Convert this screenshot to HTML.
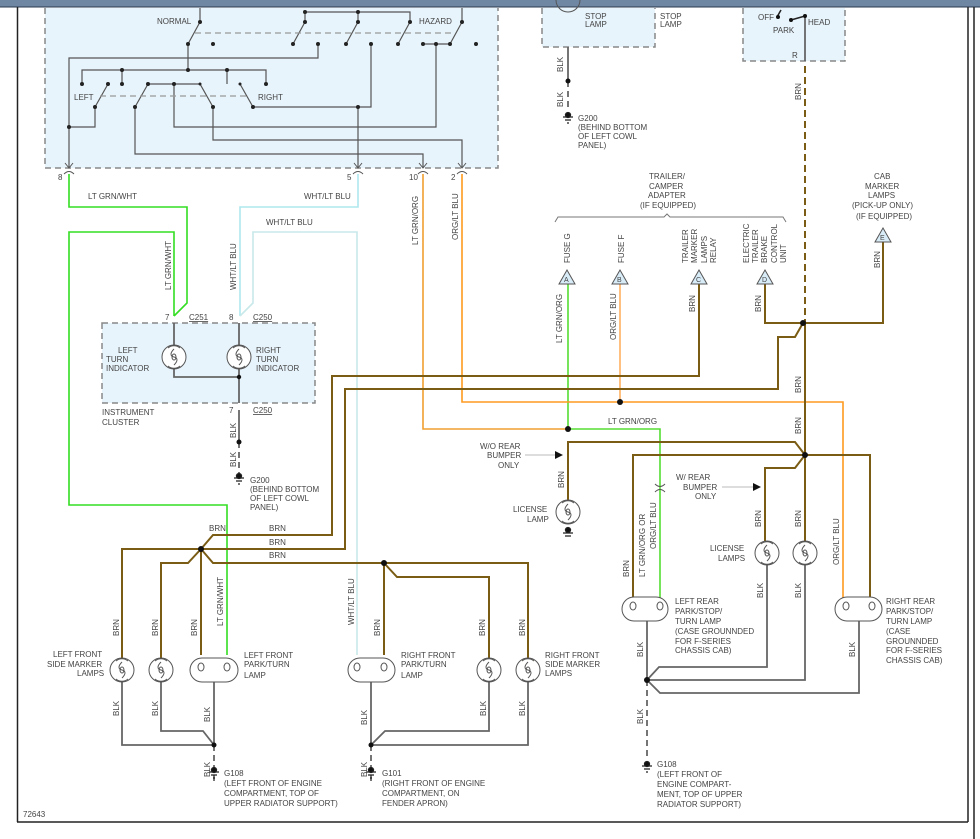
<!DOCTYPE html>
<html><head><meta charset="utf-8"><style>
html,body{margin:0;padding:0;background:#fff;width:980px;height:839px;overflow:hidden}
svg text{font-family:"Liberation Sans",sans-serif;font-size:8px;fill:#444}
</style></head><body>
<svg width="980" height="839" viewBox="0 0 980 839" xmlns="http://www.w3.org/2000/svg">
<defs>
<g id="rl"><circle r="12" fill="#fff" stroke="#555" stroke-width="1"/><path d="M-6,-9 A9,9 0 0 1 6,-9 M-6,9 A9,9 0 0 0 6,9" fill="none" stroke="#555"/><path d="M0,-8 C-4,-4 -4,-1 0,0 C4,1 4,4 0,8" fill="none" stroke="#555"/><ellipse cx="0" cy="0" rx="2" ry="3" fill="none" stroke="#555"/></g>
</defs>
<!-- frame -->
<rect x="0" y="0" width="980" height="7" fill="#6f87a3"/>
<line x1="0" y1="7" x2="980" y2="7" stroke="#2a3a50" stroke-width="1"/>
<line x1="17.5" y1="7" x2="17.5" y2="822" stroke="#222" stroke-width="1.5"/>
<line x1="17" y1="822" x2="968" y2="822" stroke="#222" stroke-width="1.5"/>
<line x1="968" y1="7" x2="968" y2="822" stroke="#222" stroke-width="1.5"/>
<line x1="974" y1="7" x2="974" y2="839" stroke="#222" stroke-width="1.5"/>

<!-- boxes -->
<g fill="#e8f4fc" stroke="#888" stroke-width="1.5" stroke-dasharray="6,4">
<path d="M45,8 V168 H498 V8"/>
<path d="M542,8 V47 H655 V8"/>
<path d="M743,8 V61 H845 V8"/>
<rect x="102" y="323" width="213" height="80"/>
</g>

<!-- switch internals -->
<g stroke="#555" stroke-width="1.2" fill="none">
<path d="M200,8 V22 L188,44"/>
<path d="M305,22 V12 H410 V22 M358,12 V22"/>
<path d="M305,22 L293,44 M358,22 L346,44 M410,22 L398,44 M462,8 V22 L450,44 M423,44 H450"/>
<path d="M188,44 V70 M82,84 V70 H266 V84 M122,70 V84 M227,70 V84"/>
<path d="M108,84 L95,107 M148,84 L135,107 M148,84 H200 L213,107 M240,84 L253,107"/>
<path d="M318,44 V58 H69 V168 M69,127 H95 V107"/>
<path d="M371,44 V107 H253 M358,107 V168"/>
<path d="M174,84 V127 H436 V44"/>
<path d="M213,107 V140 H462 V168"/>
<path d="M135,107 V154 H423 V168"/>
<path d="M195,33 H455 M100,96 H248" stroke="#999" stroke-dasharray="6,4"/>
</g>
<g fill="#222">
<circle cx="200" cy="22" r="2"/><circle cx="188" cy="44" r="2"/><circle cx="213" cy="44" r="2"/>
<circle cx="305" cy="12" r="2"/><circle cx="358" cy="12" r="2"/><circle cx="305" cy="22" r="2"/><circle cx="358" cy="22" r="2"/><circle cx="410" cy="22" r="2"/><circle cx="462" cy="22" r="2"/>
<circle cx="293" cy="44" r="2"/><circle cx="318" cy="44" r="2"/><circle cx="346" cy="44" r="2"/><circle cx="371" cy="44" r="2"/><circle cx="398" cy="44" r="2"/><circle cx="423" cy="44" r="2"/><circle cx="436" cy="44" r="2"/><circle cx="450" cy="44" r="2"/><circle cx="476" cy="44" r="2"/>
<circle cx="122" cy="70" r="2"/><circle cx="188" cy="70" r="2"/><circle cx="227" cy="70" r="2"/>
<circle cx="82" cy="84" r="2"/><circle cx="108" cy="84" r="2"/><circle cx="122" cy="84" r="2"/><circle cx="148" cy="84" r="2"/><circle cx="174" cy="84" r="2"/><circle cx="200" cy="84" r="1.5"/><circle cx="240" cy="84" r="1.5"/><circle cx="266" cy="84" r="2"/>
<circle cx="95" cy="107" r="2"/><circle cx="135" cy="107" r="2"/><circle cx="213" cy="107" r="2"/><circle cx="253" cy="107" r="2"/><circle cx="358" cy="107" r="2"/><circle cx="69" cy="127" r="2"/>
</g>
<text x="157" y="24">NORMAL</text><text x="419" y="24">HAZARD</text>
<text x="74" y="100">LEFT</text><text x="258" y="100">RIGHT</text>
<!-- connectors -->
<g stroke="#555" fill="none" stroke-width="1">
<path d="M65,163 L69,168 L73,163 M64,174 Q69,169 74,174"/>
<path d="M354,163 L358,168 L362,163 M353,174 Q358,169 363,174"/>
<path d="M419,163 L423,168 L427,163 M418,174 Q423,169 428,174"/>
<path d="M458,163 L462,168 L466,163 M457,174 Q462,169 467,174"/>
</g>
<text x="58" y="180">8</text><text x="347" y="180">5</text><text x="409" y="180">10</text><text x="451" y="180">2</text>

<!-- colored wires -->
<g fill="none" stroke-width="1.6">
<path d="M69,174 V207 H187 V303 L174,316" stroke="#33dd22"/>
<path d="M174,316 V232 H69 V505 H227 V655" stroke="#33dd22"/>
<path d="M358,174 V207 H240 V316" stroke="#aee8ee"/>
<path d="M240,316 L253,303 V232 H357 V655" stroke="#c8e8ea"/>
<path d="M423,174 V429 H568" stroke="#f0a030"/>
<path d="M568,284 V429 H660 V600" stroke="#55dd33"/>
<path d="M462,174 V402 H843 V600" stroke="#ff9a20"/>
<path d="M620,284 V402" stroke="#ffb060"/>
</g>
<g fill="none" stroke="#7a5c14" stroke-width="2">
<path d="M805,66 V323" stroke-dasharray="7,4"/>
<path d="M805,323 V455"/>
<path d="M765,284 V323 H883 V242"/>
<path d="M803,323 L795,337 H778 V389 H345 V549 H201"/>
<path d="M699,284 V376 H332 V535 H213 L201,549"/>
<path d="M201,549 H122 V658 M201,549 L188,563 H161 V658 M201,549 V655 M201,549 L213,563 H384 V655"/>
<path d="M384,563 H528 V658 M384,563 L397,577 H489 V658"/>
<path d="M805,455 L795,442 H568 V500 M805,455 H633 V600 M805,455 L795,468 H765 V541 M805,455 V541 M805,455 H870 V600"/>
</g>
<!-- BLK -->
<g fill="none" stroke="#666" stroke-width="1.8">
<path d="M239,410 V442"/><path d="M239,442 V473" stroke-dasharray="6,4"/>
<path d="M568,47 V81"/><path d="M568,81 V108" stroke-dasharray="6,4"/>
<path d="M122,682 V745 H214 M161,682 V731 H203 L214,745 M214,682 V745"/><path d="M214,745 V785" stroke-dasharray="6,4"/>
<path d="M528,682 V745 H371 M489,682 V731 H385 L371,745 M371,682 V745"/><path d="M371,745 V785" stroke-dasharray="6,4"/>
<path d="M767,565 V667 H659 L647,680 M805,565 V680 H647 M859,620 V693 H660 L647,680 M647,620 V680"/><path d="M647,680 V760" stroke-dasharray="6,4"/>
<path d="M174,369 V377 H239 M239,369 V403 M174,323 V345 M239,323 V345 M805,16 V61"/>
</g>
<g fill="#111">
<circle cx="239" cy="377" r="2.2"/><circle cx="239" cy="442" r="2.5"/><circle cx="568" cy="81" r="2.5"/>
<circle cx="201" cy="549" r="3"/><circle cx="384" cy="563" r="3"/><circle cx="214" cy="745" r="2.5"/><circle cx="371" cy="745" r="2.5"/>
<circle cx="803" cy="323" r="3"/><circle cx="805" cy="455" r="3"/><circle cx="620" cy="402" r="3"/><circle cx="568" cy="429" r="3"/><circle cx="647" cy="680" r="3"/>
</g>
<!-- grounds -->
<g stroke="#222" stroke-width="1.3">
<path d="M234,478 H244 M236,481 H242 M238,484 H240"/><circle cx="239" cy="476" r="2.5" fill="#111"/>
<path d="M563,117 H573 M565,120 H571 M567,123 H569"/><circle cx="568" cy="115" r="2.5" fill="#111"/>
<path d="M209,772 H219 M211,775 H217 M213,778 H215"/><circle cx="214" cy="770" r="2.5" fill="#111"/>
<path d="M366,772 H376 M368,775 H374 M370,778 H372"/><circle cx="371" cy="770" r="2.5" fill="#111"/>
<path d="M642,766 H652 M644,769 H650 M646,772 H648"/><circle cx="647" cy="764" r="2.5" fill="#111"/>
<path d="M563,533 H573 M565,536 H571"/><circle cx="568" cy="530" r="2.5" fill="#111"/>
</g>
<!-- switch box 3 -->
<path d="M777,17 L781,10 M791,20 L805,16" stroke="#222" stroke-width="1.5"/>
<circle cx="778" cy="17" r="2" fill="#111"/><circle cx="791" cy="20" r="2" fill="#111"/><circle cx="805" cy="16" r="2" fill="#111"/>
<text x="758" y="20">OFF</text><text x="773" y="33">PARK</text><text x="808" y="25">HEAD</text><text x="792" y="58">R</text>
<!-- lamps -->
<use href="#rl" x="174" y="357"/><use href="#rl" x="239" y="357"/>
<use href="#rl" x="122" y="670"/><use href="#rl" x="161" y="670"/><use href="#rl" x="489" y="670"/><use href="#rl" x="528" y="670"/>
<use href="#rl" x="568" y="512"/><use href="#rl" x="767" y="553"/><use href="#rl" x="805" y="553"/>
<path d="M556,0 A12,12 0 0 0 580,0" fill="none" stroke="#555"/>
<g fill="#fff" stroke="#555">
<rect x="190" y="658" width="48" height="24" rx="12"/><rect x="348" y="658" width="47" height="24" rx="12"/>
<rect x="622" y="597" width="46" height="24" rx="12"/><rect x="835" y="597" width="47" height="24" rx="12"/>
</g>
<g fill="none" stroke="#555"><ellipse cx="201" cy="667" rx="3" ry="4"/><ellipse cx="227" cy="667" rx="3" ry="4"/><ellipse cx="357" cy="667" rx="3" ry="4"/><ellipse cx="384" cy="667" rx="3" ry="4"/><ellipse cx="633" cy="606" rx="3" ry="4"/><ellipse cx="660" cy="606" rx="3" ry="4"/><ellipse cx="846" cy="606" rx="3" ry="4"/><ellipse cx="872" cy="606" rx="3" ry="4"/>
<path d="M655,484 Q660,489 665,484 M655,492 Q660,487 665,492"/></g>
<!-- triangles -->
<g fill="#d8ecf8" stroke="#555"><path d="M559,284 L567,270 L575,284Z"/><path d="M612,284 L620,270 L628,284Z"/><path d="M691,284 L699,270 L707,284Z"/><path d="M757,284 L765,270 L773,284Z"/><path d="M875,242 L883,228 L891,242Z"/></g>
<g font-size="7"><text x="564" y="282" style="font-size:7px">A</text><text x="617" y="282" style="font-size:7px">B</text><text x="696" y="282" style="font-size:7px">C</text><text x="762" y="282" style="font-size:7px">D</text><text x="880" y="240" style="font-size:7px">E</text></g>
<path d="M555,222 L558,217 H664 L667,214 L670,217 H783 L786,222" fill="none" stroke="#777"/>
<!-- arrows -->
<path d="M525,455 H555" stroke="#bbb"/><path d="M555,451 L563,455 L555,459Z" fill="#111"/>
<path d="M722,487 H753" stroke="#bbb"/><path d="M753,483 L761,487 L753,491Z" fill="#111"/>

<!-- horizontal labels -->
<text x="88" y="199">LT GRN/WHT</text><text x="304" y="199">WHT/LT BLU</text><text x="266" y="225">WHT/LT BLU</text>
<text x="118" y="353">LEFT</text><text x="106" y="362">TURN</text><text x="106" y="371" >INDICATOR</text>
<text x="256" y="353">RIGHT</text><text x="256" y="362">TURN</text><text x="256" y="371">INDICATOR</text>
<text x="165" y="320">7</text><text x="189" y="320" text-decoration="underline">C251</text>
<text x="229" y="320">8</text><text x="253" y="320" text-decoration="underline">C250</text>
<text x="229" y="413">7</text><text x="253" y="413" text-decoration="underline">C250</text>
<text x="102" y="415">INSTRUMENT</text><text x="102" y="425">CLUSTER</text>
<text x="250" y="483">G200</text><text x="250" y="492">(BEHIND BOTTOM</text><text x="250" y="501">OF LEFT COWL</text><text x="250" y="510">PANEL)</text>
<text x="578" y="121">G200</text><text x="578" y="130">(BEHIND BOTTOM</text><text x="578" y="139">OF LEFT COWL</text><text x="578" y="148">PANEL)</text>
<text x="585" y="19">STOP</text><text x="585" y="27">LAMP</text><text x="660" y="19">STOP</text><text x="660" y="27">LAMP</text>
<text x="649" y="179">TRAILER/</text><text x="649" y="189">CAMPER</text><text x="648" y="198">ADAPTER</text><text x="640" y="208">(IF EQUIPPED)</text>
<text x="874" y="179">CAB</text><text x="865" y="189">MARKER</text><text x="868" y="198">LAMPS</text><text x="852" y="208">(PICK-UP ONLY)</text><text x="856" y="219">(IF EQUIPPED)</text>
<text x="209" y="531">BRN</text><text x="269" y="531">BRN</text><text x="269" y="545">BRN</text><text x="269" y="558">BRN</text>
<text x="608" y="424">LT GRN/ORG</text>
<text x="480" y="449">W/O REAR</text><text x="487" y="458">BUMPER</text><text x="498" y="468">ONLY</text>
<text x="676" y="480">W/ REAR</text><text x="683" y="490">BUMPER</text><text x="695" y="499">ONLY</text>
<text x="513" y="512">LICENSE</text><text x="527" y="522">LAMP</text>
<text x="710" y="551">LICENSE</text><text x="718" y="561">LAMPS</text>
<text x="53" y="657">LEFT FRONT</text><text x="47" y="667">SIDE MARKER</text><text x="77" y="676">LAMPS</text>
<text x="244" y="658">LEFT FRONT</text><text x="244" y="667">PARK/TURN</text><text x="244" y="678">LAMP</text>
<text x="401" y="658">RIGHT FRONT</text><text x="401" y="667">PARK/TURN</text><text x="401" y="678">LAMP</text>
<text x="545" y="658">RIGHT FRONT</text><text x="545" y="667">SIDE MARKER</text><text x="545" y="676">LAMPS</text>
<text x="675" y="604">LEFT REAR</text><text x="675" y="614">PARK/STOP/</text><text x="675" y="624">TURN LAMP</text><text x="675" y="634">(CASE GROUNNDED</text><text x="675" y="644">FOR F-SERIES</text><text x="675" y="653">CHASSIS CAB)</text>
<text x="886" y="604">RIGHT REAR</text><text x="886" y="614">PARK/STOP/</text><text x="886" y="624">TURN LAMP</text><text x="886" y="634">(CASE</text><text x="886" y="644">GROUNNDED</text><text x="886" y="653">FOR F-SERIES</text><text x="886" y="663">CHASSIS CAB)</text>
<text x="224" y="776">G108</text><text x="224" y="786">(LEFT FRONT OF ENGINE</text><text x="224" y="796">COMPARTMENT, TOP OF</text><text x="224" y="806">UPPER RADIATOR SUPPORT)</text>
<text x="382" y="776">G101</text><text x="382" y="786">(RIGHT FRONT OF ENGINE</text><text x="382" y="796">COMPARTMENT, ON</text><text x="382" y="806">FENDER APRON)</text>
<text x="657" y="767">G108</text><text x="657" y="777">(LEFT FRONT OF</text><text x="657" y="787">ENGINE COMPART-</text><text x="657" y="797">MENT, TOP OF UPPER</text><text x="657" y="807">RADIATOR SUPPORT)</text>
<text x="23" y="817">72643</text>

<!-- vertical labels -->
<g>
<text transform="translate(171,290) rotate(-90)">LT GRN/WHT</text>
<text transform="translate(236,290) rotate(-90)">WHT/LT BLU</text>
<text transform="translate(418,245) rotate(-90)">LT GRN/ORG</text>
<text transform="translate(458,240) rotate(-90)">ORG/LT BLU</text>
<text transform="translate(801,100) rotate(-90)">BRN</text>
<text transform="translate(563,72) rotate(-90)">BLK</text><text transform="translate(563,107) rotate(-90)">BLK</text>
<text transform="translate(236,438) rotate(-90)">BLK</text><text transform="translate(236,467) rotate(-90)">BLK</text>
<text transform="translate(570,263) rotate(-90)">FUSE G</text>
<text transform="translate(624,263) rotate(-90)">FUSE F</text>
<text transform="translate(688,263) rotate(-90)">TRAILER</text><text transform="translate(697,263) rotate(-90)">MARKER</text><text transform="translate(707,263) rotate(-90)">LAMPS</text><text transform="translate(716,263) rotate(-90)">RELAY</text>
<text transform="translate(749,263) rotate(-90)">ELECTRIC</text><text transform="translate(758,263) rotate(-90)">TRAILER</text><text transform="translate(767,263) rotate(-90)">BRAKE</text><text transform="translate(777,263) rotate(-90)">CONTROL</text><text transform="translate(786,263) rotate(-90)">UNIT</text>
<text transform="translate(562,343) rotate(-90)">LT GRN/ORG</text>
<text transform="translate(616,340) rotate(-90)">ORG/LT BLU</text>
<text transform="translate(695,312) rotate(-90)">BRN</text>
<text transform="translate(761,312) rotate(-90)">BRN</text>
<text transform="translate(880,268) rotate(-90)">BRN</text>
<text transform="translate(801,393) rotate(-90)">BRN</text><text transform="translate(801,434) rotate(-90)">BRN</text>
<text transform="translate(564,488) rotate(-90)">BRN</text>
<text transform="translate(761,527) rotate(-90)">BRN</text><text transform="translate(801,527) rotate(-90)">BRN</text>
<text transform="translate(645,577) rotate(-90)">LT GRN/ORG OR</text><text transform="translate(656,549) rotate(-90)">ORG/LT BLU</text>
<text transform="translate(629,577) rotate(-90)">BRN</text>
<text transform="translate(839,565) rotate(-90)">ORG/LT BLU</text>
<text transform="translate(643,657) rotate(-90)">BLK</text><text transform="translate(643,724) rotate(-90)">BLK</text>
<text transform="translate(763,598) rotate(-90)">BLK</text><text transform="translate(801,598) rotate(-90)">BLK</text><text transform="translate(855,657) rotate(-90)">BLK</text>
<text transform="translate(119,636) rotate(-90)">BRN</text><text transform="translate(158,636) rotate(-90)">BRN</text><text transform="translate(197,636) rotate(-90)">BRN</text>
<text transform="translate(223,626) rotate(-90)">LT GRN/WHT</text>
<text transform="translate(354,625) rotate(-90)">WHT/LT BLU</text>
<text transform="translate(380,636) rotate(-90)">BRN</text><text transform="translate(485,636) rotate(-90)">BRN</text><text transform="translate(525,636) rotate(-90)">BRN</text>
<text transform="translate(119,716) rotate(-90)">BLK</text><text transform="translate(158,716) rotate(-90)">BLK</text><text transform="translate(210,722) rotate(-90)">BLK</text>
<text transform="translate(367,725) rotate(-90)">BLK</text><text transform="translate(486,716) rotate(-90)">BLK</text><text transform="translate(525,716) rotate(-90)">BLK</text>
<text transform="translate(210,777) rotate(-90)">BLK</text><text transform="translate(367,777) rotate(-90)">BLK</text>
</g>
</svg>
</body></html>
